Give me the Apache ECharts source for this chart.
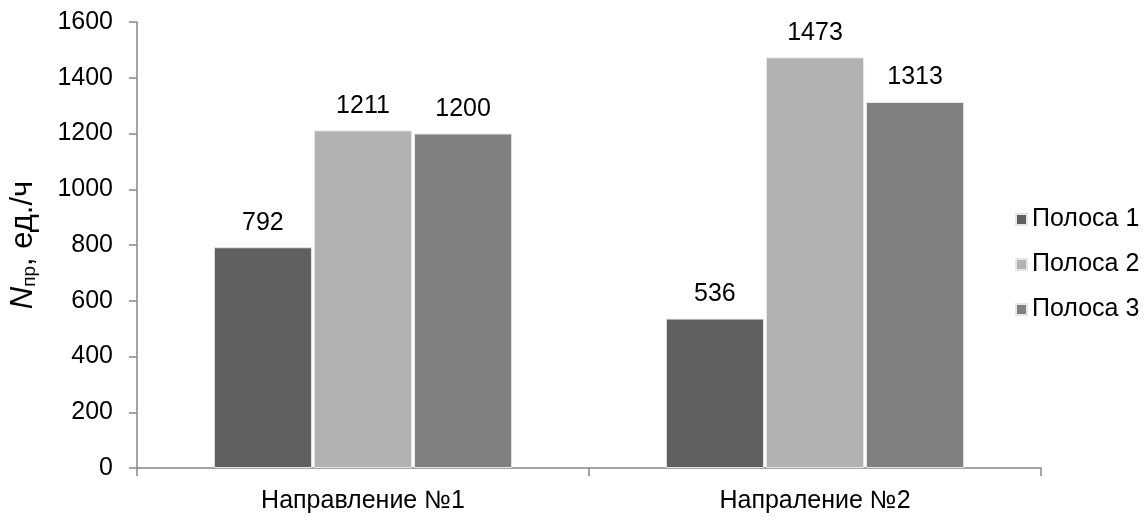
<!DOCTYPE html>
<html><head><meta charset="utf-8">
<script src="https://cdn.jsdelivr.net/npm/echarts@6/dist/echarts.min.js"></script>
<style>html,body{margin:0;padding:0;background:#fff}#c{width:1147px;height:517px}</style>
</head><body><div id="c"></div>
<script>
const categories = ['Направление №1', 'Напраление №2'];
const seriesNames = ['Полоса 1', 'Полоса 2', 'Полоса 3'];
const lane1 = [792, 536];
const lane2 = [1211, 1473];
const lane3 = [1200, 1313];
const colors = ['#606060', '#b2b2b2', '#808080'];
const font = '"Liberation Sans", Arial, sans-serif';
const FS = 25;
const chart = echarts.init(document.getElementById('c'));
const vals = [lane1, lane2, lane3];
chart.setOption({
  animation: false,
  textStyle: {fontFamily: font},
  grid: {left: 133, right: 106, top: 22, bottom: 49, containLabel: false},
  legend: {
    orient: 'vertical', left: 1010, top: 202, itemWidth: 11, itemHeight: 11, itemGap: 20,
    icon: 'rect', textStyle: {fontSize: FS, color: '#000', fontFamily: font},
    data: seriesNames
  },
  xAxis: {
    type: 'category', data: categories,
    axisLine: {lineStyle: {color: '#868686', width: 1.5}},
    axisTick: {show: true, length: 8, lineStyle: {color: '#868686', width: 1.5}},
    axisLabel: {fontSize: FS, color: '#000', margin: 21, fontFamily: font}
  },
  yAxis: {
    type: 'value', min: 0, max: 1600, interval: 200,
    name: '{i|N}{s|пр}{n|, ед./ч}', nameLocation: 'middle', nameGap: 98, nameRotate: 90,
    nameTextStyle: {rich: {
      i: {fontSize: 31, fontStyle: 'italic', color: '#000', fontFamily: font},
      s: {fontSize: 19, color: '#000', fontFamily: font, verticalAlign: 'bottom', padding: [12, 0, 0, 0]},
      n: {fontSize: 31, color: '#000', fontFamily: font}
    }},
    axisLine: {show: true, lineStyle: {color: '#868686', width: 1.5}},
    axisTick: {show: true, length: 8, lineStyle: {color: '#868686', width: 1.5}},
    splitLine: {show: false},
    axisLabel: {fontSize: FS, color: '#000', margin: 24, fontFamily: font, formatter: v => String(v)}
  },
  series: seriesNames.map((n, i) => ({
    name: n, type: 'bar', data: vals[i],
    barGap: '2%', barCategoryGap: '34%',
    itemStyle: {color: colors[i], borderColor: '#e6e6e6', borderWidth: 1},
    label: {show: true, position: 'top', distance: 12, fontSize: FS, color: '#000', fontFamily: font}
  }))
});
</script></body></html>
